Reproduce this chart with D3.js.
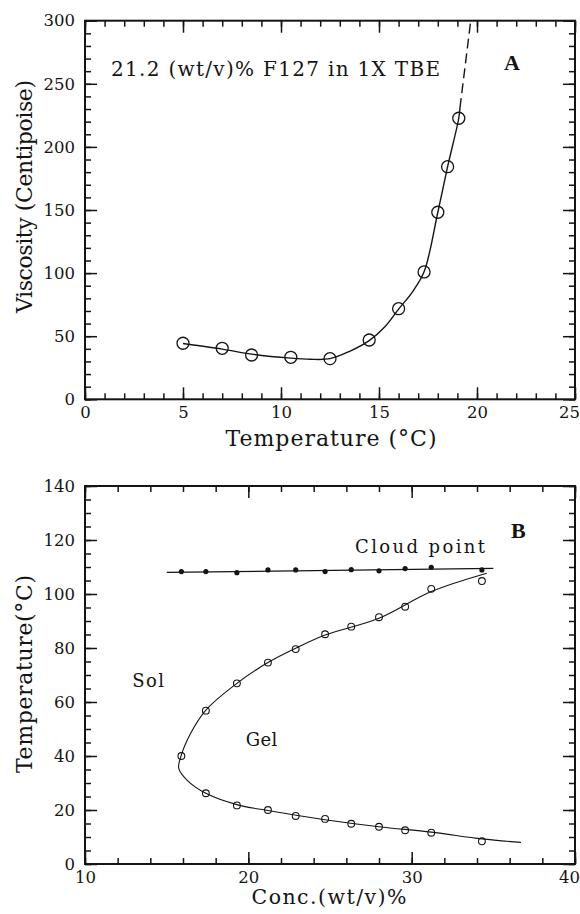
<!DOCTYPE html>
<html>
<head>
<meta charset="utf-8">
<script src="https://cdn.jsdelivr.net/npm/d3@7"></script>
<style>
  body { margin: 0; background: #fff; }
  svg { display: block; }
</style>
</head>
<body>
<svg id="chart" width="580" height="914"></svg>
<script>
// ---------- Panel A: viscosity vs temperature ----------
const tempA = [5, 7, 8.5, 10.5, 12.5, 14.5, 16, 17.3, 18, 18.5, 19.07];
const viscA = [44.4, 40.4, 35.1, 33.3, 32.2, 47.0, 71.8, 100.9, 148.2, 184.3, 222.7];
// fitted curve (solid part) and its dashed extrapolation
const fitTempA = [5, 7, 8.5, 10.5, 11.5, 12.5, 13.5, 14.5, 15.3, 16, 16.7, 17.3, 18, 18.5, 19.07, 19.13];
const fitViscA = [44.2, 39.8, 35.8, 32.6, 31.7, 32.2, 38, 46.5, 57.5, 71.5, 85, 101, 148, 184.3, 222.7, 230.8];
const extTempA = [19.13, 19.68];
const extViscA = [230.8, 300];
const xTicksA = [0, 5, 10, 15, 20, 25];
const yTicksA = [0, 50, 100, 150, 200, 250, 300];

// ---------- Panel B: phase diagram ----------
const concB = [15.9, 17.4, 19.3, 21.2, 22.9, 24.7, 26.3, 28.0, 29.6, 31.2, 34.3];
const cloudTempB = [108.3, 108.3, 107.9, 108.9, 108.9, 108.3, 109.0, 108.6, 109.4, 109.9, 108.9];
const upperTempB = [40.0, 56.8, 66.9, 74.6, 79.6, 85.1, 87.9, 91.4, 95.3, 101.9, 104.8];
const lowerConcB = [17.4, 19.3, 21.2, 22.9, 24.7, 26.3, 28.0, 29.6, 31.2, 34.3];
const lowerTempB = [26.2, 21.7, 20.0, 17.8, 16.7, 14.9, 13.8, 12.5, 11.6, 8.4];
const cloudFitConc = [15, 35];
const cloudFitTemp = [108.0, 109.5];
const gelFitConc = [34.6, 31.2, 28.0, 24.7, 22.9, 21.2, 19.3, 17.4, 16.47, 15.88, 15.74, 16.24, 17.4, 19.3, 21.2, 24.7, 28.0, 31.2, 34.3, 36.69];
const gelFitTemp = [107.7, 100.9, 91.0, 84.8, 79.9, 74.6, 66.9, 57.0, 48.4, 40.0, 35.4, 31.1, 26.2, 22.0, 19.8, 16.4, 13.8, 11.8, 9.3, 8.0];
const xTicksB = [10, 20, 30, 40];
const yTicksB = [0, 20, 40, 60, 80, 100, 120, 140];

const FONT = "'DejaVu Serif', serif";
const INK = "#141414";
const svg = d3.select("#chart");

// Frame with inward ticks on all four sides
function drawFrame(x, y, major, minor) {
  const [x0, x1] = x.range();
  const [y0, y1] = y.range(); // y0 bottom, y1 top
  const g = svg.append("g");

  const styleAxis = sel => {
    sel.select(".domain").remove();
    sel.selectAll(".tick line").attr("stroke", INK).attr("stroke-width", 1.5);
    sel.attr("font-family", FONT).attr("font-size", 16.5);
    sel.selectAll(".tick text").attr("fill", INK);
  };

  // minor ticks
  g.append("g").attr("transform", `translate(0,${y0})`)
    .call(d3.axisBottom(x).tickValues(minor.x).tickSize(-6).tickFormat("")).call(styleAxis);
  g.append("g").attr("transform", `translate(0,${y1})`)
    .call(d3.axisTop(x).tickValues(minor.x).tickSize(-6).tickFormat("")).call(styleAxis);
  g.append("g").attr("transform", `translate(${x0},0)`)
    .call(d3.axisLeft(y).tickValues(minor.y).tickSize(-6).tickFormat("")).call(styleAxis);
  g.append("g").attr("transform", `translate(${x1},0)`)
    .call(d3.axisRight(y).tickValues(minor.y).tickSize(-6).tickFormat("")).call(styleAxis);

  // major ticks with labels on bottom and left
  const bottom = g.append("g").attr("transform", `translate(0,${y0})`)
    .call(d3.axisBottom(x).tickValues(major.x).tickSize(-12).tickPadding(7).tickFormat(d3.format("d"))).call(styleAxis);
  // keep the last label inside the page edge
  bottom.selectAll(".tick text").filter((d, i, n) => i === n.length - 1).attr("dx", -6);
  g.append("g").attr("transform", `translate(0,${y1})`)
    .call(d3.axisTop(x).tickValues(major.x).tickSize(-12).tickFormat("")).call(styleAxis);
  g.append("g").attr("transform", `translate(${x0},0)`)
    .call(d3.axisLeft(y).tickValues(major.y).tickSize(-12).tickPadding(10).tickFormat(d3.format("d"))).call(styleAxis);
  g.append("g").attr("transform", `translate(${x1},0)`)
    .call(d3.axisRight(y).tickValues(major.y).tickSize(-12).tickFormat("")).call(styleAxis);

  g.append("rect")
    .attr("x", x0).attr("y", y1).attr("width", x1 - x0).attr("height", y0 - y1)
    .attr("fill", "none").attr("stroke", INK).attr("stroke-width", 2);
}

function label(text, x, y, opts = {}) {
  const t = svg.append("text")
    .attr("x", x).attr("y", y)
    .attr("font-family", opts.family || FONT)
    .attr("font-size", opts.size || 18)
    .attr("font-weight", opts.weight || "normal")
    .attr("fill", INK)
    .attr("text-anchor", opts.anchor || "start")
    .text(text);
  if (opts.length) t.attr("textLength", opts.length).attr("lengthAdjust", "spacing");
  if (opts.rotate) t.attr("transform", `rotate(${opts.rotate},${x},${y})`);
  return t;
}

// ===== Panel A =====
const xA = d3.scaleLinear().domain([0, 25]).range([85, 575]);
const yA = d3.scaleLinear().domain([0, 300]).range([399.3, 20.7]);
drawFrame(xA, yA, { x: xTicksA, y: yTicksA }, { x: d3.range(0, 26, 1), y: d3.range(0, 301, 10) });

const lineA = d3.line().x(d => xA(d[0])).y(d => yA(d[1]));
svg.append("path")
  .datum(fitTempA.map((t, i) => [t, fitViscA[i]]))
  .attr("d", lineA.curve(d3.curveCatmullRom.alpha(0.5)))
  .attr("fill", "none").attr("stroke", INK).attr("stroke-width", 1.4);
svg.append("path")
  .datum(extTempA.map((t, i) => [t, extViscA[i]]))
  .attr("d", d3.line().x(d => xA(d[0])).y(d => yA(d[1])))
  .attr("fill", "none").attr("stroke", INK).attr("stroke-width", 1.4)
  .attr("stroke-dasharray", "10,5");

svg.append("g").selectAll("circle")
  .data(tempA.map((t, i) => [t, viscA[i]]))
  .join("circle")
  .attr("cx", d => xA(d[0])).attr("cy", d => yA(d[1])).attr("r", 6)
  .attr("fill", "none").attr("stroke", INK).attr("stroke-width", 1.3);

label("21.2 (wt/v)% F127 in 1X TBE", 111, 76, { size: 20, length: 329 });
label("A", 504, 69.5, { family: "'Liberation Serif', serif", weight: "bold", size: 22 });
label("Temperature (°C)", 331, 446, { size: 22, anchor: "middle", length: 211 });
label("Viscosity (Centipoise)", 32, 196.5, { size: 22, anchor: "middle", length: 233, rotate: -90 });

// ===== Panel B =====
const xB = d3.scaleLinear().domain([10, 40]).range([85, 575]);
const yB = d3.scaleLinear().domain([0, 140]).range([864, 486]);
drawFrame(xB, yB, { x: xTicksB, y: yTicksB }, { x: d3.range(10, 41, 2), y: d3.range(0, 141, 5) });

svg.append("path")
  .datum(cloudFitConc.map((c, i) => [c, cloudFitTemp[i]]))
  .attr("d", d3.line().x(d => xB(d[0])).y(d => yB(d[1])))
  .attr("fill", "none").attr("stroke", INK).attr("stroke-width", 1.3);

svg.append("path")
  .datum(gelFitConc.map((c, i) => [c, gelFitTemp[i]]))
  .attr("d", d3.line().x(d => xB(d[0])).y(d => yB(d[1])).curve(d3.curveCatmullRom.alpha(0.5)))
  .attr("fill", "none").attr("stroke", INK).attr("stroke-width", 1.1);

svg.append("g").selectAll("circle")
  .data(concB.map((c, i) => [c, cloudTempB[i]]))
  .join("circle")
  .attr("cx", d => xB(d[0])).attr("cy", d => yB(d[1])).attr("r", 2.6)
  .attr("fill", INK);

const openB = concB.map((c, i) => [c, upperTempB[i]])
  .concat(lowerConcB.map((c, i) => [c, lowerTempB[i]]));
svg.append("g").selectAll("circle")
  .data(openB)
  .join("circle")
  .attr("cx", d => xB(d[0])).attr("cy", d => yB(d[1])).attr("r", 3.4)
  .attr("fill", "none").attr("stroke", INK).attr("stroke-width", 1.1);

label("Cloud point", 355, 553.3, { size: 18, length: 130 });
label("B", 511, 537.5, { family: "'Liberation Serif', serif", weight: "bold", size: 22 });
label("Sol", 132.3, 686.7, { size: 18, length: 31.7 });
label("Gel", 245.7, 746, { size: 18, length: 31.6 });
label("Conc.(wt/v)%", 329, 903.5, { size: 20.5, anchor: "middle", length: 155 });
label("Temperature(°C)", 32, 674, { size: 22, anchor: "middle", length: 198, rotate: -90 });
</script>
</body>
</html>
